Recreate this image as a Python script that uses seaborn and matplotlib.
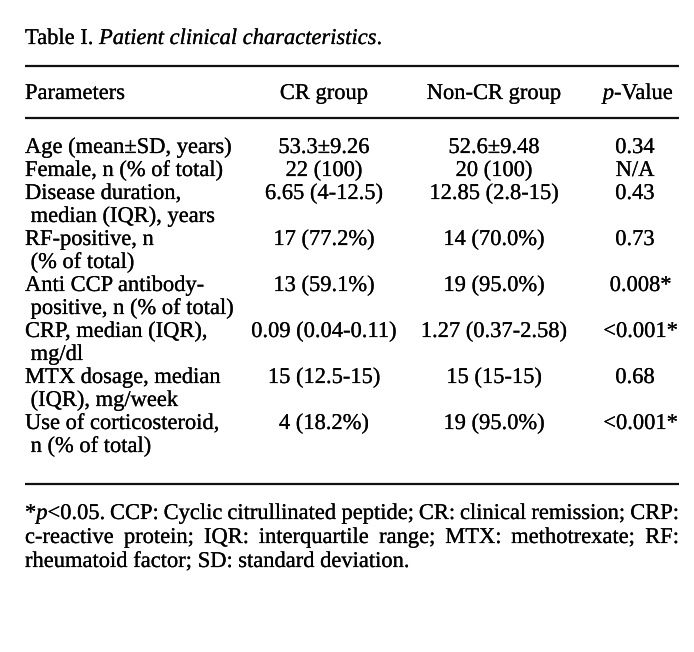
import matplotlib
matplotlib.use("Agg")
import matplotlib.pyplot as plt
import matplotlib.patheffects as pe
import seaborn as sns

# ---------------- data ----------------
title_prefix = "Table I. "
title_italic = "Patient clinical characteristics"
columns = ["Parameters", "CR group", "Non-CR group", "p-Value"]
parameters = [
    ["Age (mean±SD, years)"],
    ["Female, n (% of total)"],
    ["Disease duration,", " median (IQR), years"],
    ["RF-positive, n", " (% of total)"],
    ["Anti CCP antibody-", " positive, n (% of total)"],
    ["CRP, median (IQR),", " mg/dl"],
    ["MTX dosage, median", " (IQR), mg/week"],
    ["Use of corticosteroid,", " n (% of total)"],
]
cr_values = ["53.3±9.26", "22 (100)", "6.65 (4-12.5)", "17 (77.2%)",
             "13 (59.1%)", "0.09 (0.04-0.11)", "15 (12.5-15)", "4 (18.2%)"]
noncr_values = ["52.6±9.48", "20 (100)", "12.85 (2.8-15)", "14 (70.0%)",
                "19 (95.0%)", "1.27 (0.37-2.58)", "15 (15-15)", "19 (95.0%)"]
p_values = ["0.34", "N/A", "0.43", "0.73", "0.008*", "<0.001*", "0.68", "<0.001*"]
footnote_lines = [
    "*p<0.05. CCP: Cyclic citrullinated peptide; CR: clinical remission; CRP:",
    "c-reactive protein; IQR: interquartile range; MTX: methotrexate; RF:",
    "rheumatoid factor; SD: standard deviation.",
]

# ---------------- style ----------------
sns.set_theme(style="white")
plt.rcParams["font.family"] = ["Liberation Serif", "DejaVu Serif"]
FS = 16.2
TXT = "#000000"
EFFECT = [pe.withStroke(linewidth=0.15, foreground=TXT)]

W, H = 694, 652
fig = plt.figure(figsize=(W / 100, H / 100), dpi=100)
ax = fig.add_axes([0, 0, 1, 1])
ax.set_xlim(0, W)
ax.set_ylim(H, 0)
ax.axis("off")
fig.patch.set_facecolor("white")
renderer = fig.canvas.get_renderer()

LEFT, RIGHT = 25, 679
X_CR, X_NON, X_P = 324, 494, 635
BASE_OFF = 7  # baseline offset from visual line centre


def width(s, style="normal"):
    t = ax.text(0, 0, s, fontsize=FS, fontstyle=style)
    bb = t.get_window_extent(renderer)
    t.remove()
    return bb.width


SPACE = width("a a") - width("aa")


def put(x, y, s, style="normal"):
    ax.text(x, y + BASE_OFF, s, fontsize=FS, fontstyle=style, color=TXT,
            ha="left", va="baseline", path_effects=EFFECT)


def draw_runs(x, y, runs, ha="left"):
    ws = []
    for s, st in runs:
        lead = len(s) - len(s.lstrip(" "))
        trail = len(s) - len(s.rstrip(" "))
        core = s.strip(" ")
        ws.append((lead * SPACE, width(core, st) if core else 0, trail * SPACE, core, st))
    total = sum(a + b + c for a, b, c, _, _ in ws)
    if ha == "center":
        x = x - total / 2
    elif ha == "right":
        x = x - total
    for lead, w, trail, core, st in ws:
        x += lead
        if core:
            put(x, y, core, st)
        x += w + trail
    return x


def draw_left(x, y, s):
    lead = len(s) - len(s.lstrip(" "))
    put(x + lead * SPACE, y, s.strip(" "))


# ---------------- layout ----------------
Y_TITLE, Y_RULE1, Y_HEAD, Y_RULE2 = 37, 66, 92, 118
Y_ROW0, ROW_H = 146, 23.0
Y_RULE3 = 484
Y_FOOT0, FOOT_H = 512, 24.0

# title
draw_runs(LEFT, Y_TITLE, [(title_prefix, "normal"), (title_italic, "italic"), (".", "normal")])

# rules
for yy in (Y_RULE1, Y_RULE2, Y_RULE3):
    ax.plot([LEFT, RIGHT], [yy, yy], color="#111111", lw=1.6, solid_capstyle="butt")

# header
draw_left(LEFT, Y_HEAD, columns[0])
draw_runs(X_CR, Y_HEAD, [(columns[1], "normal")], ha="center")
draw_runs(X_NON, Y_HEAD, [(columns[2], "normal")], ha="center")
draw_runs(X_P + 3, Y_HEAD, [("p", "italic"), ("-Value", "normal")], ha="center")

# rows
line = 0
for lines, cr, non, p in zip(parameters, cr_values, noncr_values, p_values):
    y = Y_ROW0 + line * ROW_H
    for k, txt in enumerate(lines):
        draw_left(LEFT, y + k * ROW_H, txt)
    draw_runs(X_CR, y, [(cr, "normal")], ha="center")
    draw_runs(X_NON, y, [(non, "normal")], ha="center")
    core = p.rstrip("*")
    xe = draw_runs(X_P, y, [(core, "normal")], ha="center")
    if p.endswith("*"):
        put(xe, y, "*")
    line += len(lines)


# footnote (justified)
def word_runs(wd):
    if wd.startswith("*p"):
        return [("*", "normal"), ("p", "italic"), (wd[2:], "normal")]
    return [(wd, "normal")]


for i, ln in enumerate(footnote_lines):
    y = Y_FOOT0 + i * FOOT_H
    words = ln.split(" ")
    wr = [word_runs(w) for w in words]
    wws = [sum(width(s, st) for s, st in r) for r in wr]
    if i < len(footnote_lines) - 1:
        gap = (RIGHT - LEFT - sum(wws)) / (len(words) - 1)
    else:
        gap = SPACE
    x = LEFT
    for r, w in zip(wr, wws):
        draw_runs(x, y, r)
        x += w + gap

fig.savefig("out.png", dpi=100, facecolor="white")
